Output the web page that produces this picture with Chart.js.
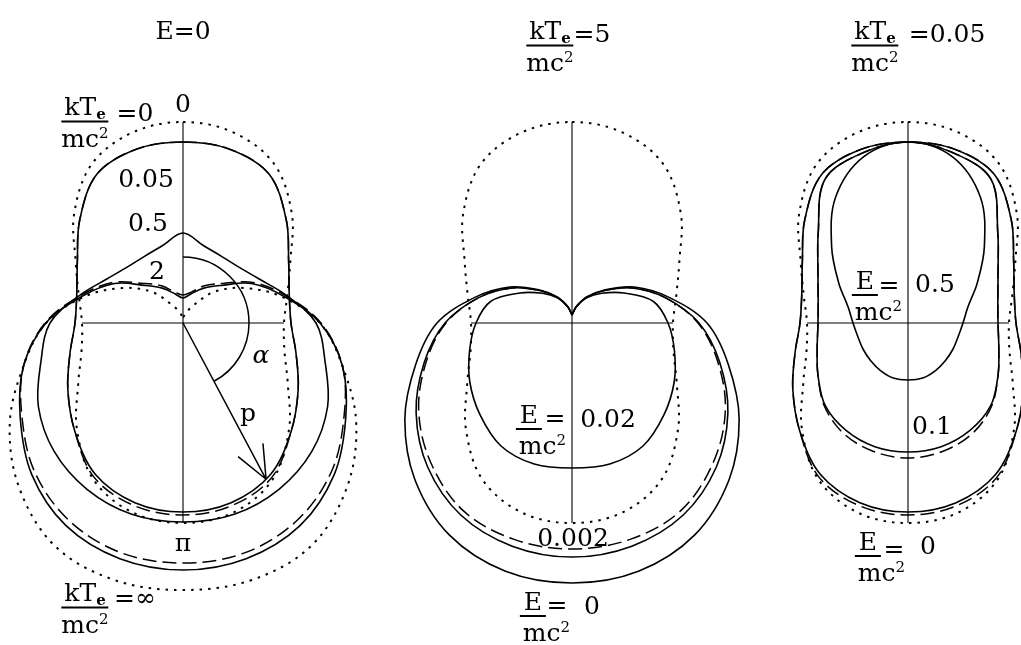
<!DOCTYPE html>
<html lang="en">
<head>
<meta charset="UTF-8">
<title>Angular distributions</title>
<script src="https://cdn.jsdelivr.net/npm/chart.js"></script>
<style>
  body { margin: 0; background: #fff; }
  #wrap { position: relative; width: 1021px; height: 645px; }
  canvas { position: absolute; left: 0; top: 0; }
  .lab { position: absolute; transform: translate(-50%, -50%); font-family: "DejaVu Serif", serif;
         font-size: 25px; line-height: 1; color: #000; white-space: nowrap; }
  .fr { display: inline-flex; flex-direction: column; align-items: center; }
  .fr .n { border-bottom: 2px solid #000; padding: 0 3px 2px; }
  .fr .d { padding-top: 3px; }
  .ef { display: inline-flex; flex-direction: column; align-items: flex-start; }
  .ef .n { border-bottom: 2px solid #000; padding: 0 4px 1px; }
  .ef .d { padding: 3px 0 0 3px; }
  sub { font-size: 15px; line-height: 0; vertical-align: -4px; font-weight: bold; }
  sup { font-size: 15px; line-height: 0; vertical-align: 9px; }
</style>
</head>
<body>
<div id="wrap">
  <canvas id="chart" width="1021" height="645"></canvas>
</div>
<script>
// angle from the upward axis, degrees; radius read at each angle (100 px = 1)
const angles = [0, 15, 30, 45, 60, 75, 90, 105, 120, 135, 150, 165, 180];

// left panel, E = 0, kTe/mc2 = 0, 0.05, 0.5, 2, infinity
const kt0 = [2.01, 1.97, 1.83, 1.54, 1.24, 1.08, 1.01, 1.05, 1.21, 1.50, 1.80, 1.96, 2.00];
const kt005 = [1.81, 1.80, 1.72, 1.46, 1.22, 1.10, 1.08, 1.17, 1.33, 1.53, 1.75, 1.86, 1.89];
const kt005Dash = [1.81, 1.80, 1.72, 1.46, 1.22, 1.10, 1.08, 1.17, 1.33, 1.53, 1.78, 1.89, 1.92];
const kt05 = [0.90, 0.80, 0.77, 0.79, 0.88, 1.07, 1.33, 1.47, 1.67, 1.82, 1.92, 1.98, 1.99];
const kt2 = [0.25, 0.30, 0.40, 0.53, 0.79, 1.04, 1.37, 1.65, 1.88, 2.14, 2.34, 2.44, 2.47];
const kt2Dash = [0.28, 0.32, 0.43, 0.56, 0.81, 1.06, 1.38, 1.65, 1.86, 2.10, 2.28, 2.38, 2.40];
const ktInf = [0.06, 0.10, 0.20, 0.44, 0.70, 1.02, 1.37, 1.65, 2.00, 2.32, 2.57, 2.66, 2.67];

// middle panel, kTe/mc2 = 5, E/mc2 = 0, 0.002, 0.02
const kt5E0 = [0.08, 0.17, 0.30, 0.47, 0.72, 1.00, 1.35, 1.62, 1.93, 2.22, 2.45, 2.57, 2.60];
const kt5E0002 = [0.08, 0.17, 0.30, 0.46, 0.70, 0.97, 1.27, 1.53, 1.80, 2.04, 2.22, 2.31, 2.34];
const kt5E0002Dash = [0.08, 0.17, 0.30, 0.46, 0.70, 0.97, 1.26, 1.51, 1.77, 1.99, 2.17, 2.24, 2.26];
const kt5E002 = [0.08, 0.17, 0.29, 0.42, 0.60, 0.84, 0.96, 1.06, 1.18, 1.30, 1.42, 1.46, 1.45];

// right panel, kTe/mc2 = 0.05, E/mc2 = 0 (kt005), 0.1, 0.5
const kt005E01 = [1.81, 1.76, 1.66, 1.27, 1.04, 0.93, 0.90, 0.94, 1.04, 1.17, 1.24, 1.28, 1.29];
const kt005E01Dash = [1.81, 1.76, 1.66, 1.27, 1.04, 0.93, 0.90, 0.94, 1.04, 1.18, 1.28, 1.33, 1.35];
const kt005E05 = [1.81, 1.72, 1.45, 1.08, 0.80, 0.62, 0.55, 0.52, 0.52, 0.53, 0.55, 0.57, 0.57];

// layout (chart units)
const centres = [[1.83, -3.23], [5.72, -3.23], [9.08, -3.23]];
const axisUp = 2.01, axisDown = 2.0, axisSide = 1.01;

function pt(r, deg, c, side) {
    const a = deg * Math.PI / 180;
    return { x: c[0] + side * r * Math.sin(a), y: c[1] + r * Math.cos(a) };
}

// closed outline: right half top to bottom, then left half back up.
// smooth curves get one extra point on each end so the top joins without a corner;
// those two end segments are left undrawn.
function polar(radii, c, smooth) {
    const pts = [];
    if (smooth) pts.push(pt(radii[1], angles[1], c, -1));
    for (let i = 0; i < angles.length; i++) pts.push(pt(radii[i], angles[i], c, 1));
    for (let i = angles.length - 2; i >= 0; i--) pts.push(pt(radii[i], angles[i], c, -1));
    if (smooth) pts.push(pt(radii[1], angles[1], c, 1));
    return pts;
}

function curve(radii, c, style, cusp) {
    let dash = [];
    let width = 1.6;
    if (style === "dot") { dash = [2.5, 6]; width = 2; }
    if (style === "dash") { dash = [14, 6]; width = 1.5; }
    const data = polar(radii, c, !cusp);
    const last = data.length - 1;
    return { data, borderColor: "#000", borderWidth: width, borderDash: dash,
             showLine: true, pointRadius: 0, tension: 0.35, fill: false,
             segment: cusp ? {} : {
                 borderColor: s => (s.p0DataIndex === 0 || s.p1DataIndex === last) ? "rgba(0,0,0,0)" : "#000"
             } };
}

function axes(c) {
    return [
        { data: [{ x: c[0], y: c[1] + axisUp }, { x: c[0], y: c[1] - axisDown }] },
        { data: [{ x: c[0] - axisSide, y: c[1] }, { x: c[0] + axisSide, y: c[1] }] }
    ].map(d => Object.assign(d, { borderColor: "#000", borderWidth: 1.1, showLine: true, pointRadius: 0, tension: 0 }));
}

const datasets = [
    ...axes(centres[0]), ...axes(centres[1]), ...axes(centres[2]),
    curve(kt0, centres[0], "dot"),
    curve(kt005, centres[0]),
    curve(kt005Dash, centres[0], "dash"),
    curve(kt05, centres[0]),
    curve(kt2, centres[0]),
    curve(kt2Dash, centres[0], "dash"),
    curve(ktInf, centres[0], "dot"),
    curve(kt0, centres[1], "dot"),
    curve(kt5E0, centres[1], "solid", true),
    curve(kt5E0002, centres[1], "solid", true),
    curve(kt5E0002Dash, centres[1], "dash", true),
    curve(kt5E002, centres[1], "solid", true),
    curve(kt0, centres[2], "dot"),
    curve(kt005, centres[2]),
    curve(kt005Dash, centres[2], "dash"),
    curve(kt005E01, centres[2]),
    curve(kt005E01Dash, centres[2], "dash"),
    curve(kt005E05, centres[2])
];

// the alpha arc and the momentum arrow p in the left panel
const arcRadius = 0.66, arrowAngle = 152, arrowLength = 1.77, headLength = 0.36, headSpread = 23;
const sketchPlugin = {
    id: "sketch",
    afterDatasetsDraw(chart) {
        const ctx = chart.ctx, xs = chart.scales.x, ys = chart.scales.y;
        const cx = xs.getPixelForValue(centres[0][0]), cy = ys.getPixelForValue(centres[0][1]);
        const unit = xs.getPixelForValue(1) - xs.getPixelForValue(0);
        ctx.save();
        ctx.strokeStyle = "#000";
        ctx.lineWidth = 1.5;
        ctx.beginPath();
        ctx.arc(cx, cy, arcRadius * unit, -Math.PI / 2, (arrowAngle - 90) * Math.PI / 180);
        ctx.stroke();
        const a = arrowAngle * Math.PI / 180;
        const tx = cx + arrowLength * unit * Math.sin(a), ty = cy - arrowLength * unit * Math.cos(a);
        ctx.beginPath();
        ctx.moveTo(cx, cy);
        ctx.lineTo(tx, ty);
        const back = Math.atan2(cy - ty, cx - tx);
        [-1, 1].forEach(s => {
            const b = back + s * headSpread * Math.PI / 180;
            ctx.moveTo(tx, ty);
            ctx.lineTo(tx + headLength * unit * Math.cos(b), ty + headLength * unit * Math.sin(b));
        });
        ctx.stroke();
        ctx.restore();
    }
};

new Chart(document.getElementById("chart"), {
    type: "scatter",
    data: { datasets },
    options: {
        responsive: false,
        animation: false,
        devicePixelRatio: 1,
        layout: { padding: 0 },
        plugins: { legend: { display: false }, tooltip: { enabled: false } },
        scales: {
            x: { type: "linear", min: 0, max: 10.21, display: false },
            y: { type: "linear", min: -6.45, max: 0, display: false }
        }
    },
    plugins: [sketchPlugin]
});

// text labels
const ktFrac = '<span class="fr"><span class="n">kT<sub>e</sub></span><span class="d">mc<sup>2</sup></span></span>';
const eFrac = '<span class="ef"><span class="n">E</span><span class="d">mc<sup>2</sup></span></span>';
const labels = [
    ["E=0", 183, 30], ["0", 183, 103], [ktFrac, 85, 122], ["=0", 135, 112],
    ["0.05", 146, 178], ["0.5", 148, 222], ["2", 157, 270],
    ["<i>α</i>", 261, 354], ["p", 248, 412], ["π", 183, 542],
    [ktFrac, 85, 608], ["=∞", 135, 597],
    [ktFrac, 550, 46], ["=5", 592, 33],
    [eFrac, 541, 430], ["=", 555, 417], ["0.02", 608, 418],
    ["0.002", 573, 537],
    [eFrac, 545, 617], ["=", 557, 604], ["0", 592, 605],
    [ktFrac, 875, 46], ["=0.05", 947, 33],
    [eFrac, 877, 296], ["=", 889, 284], ["0.5", 935, 283],
    ["0.1", 932, 425],
    [eFrac, 880, 557], ["=", 894, 548], ["0", 928, 545]
];
const wrap = document.getElementById("wrap");
labels.forEach(([html, x, y]) => {
    const d = document.createElement("div");
    d.className = "lab";
    d.innerHTML = html;
    d.style.left = x + "px";
    d.style.top = y + "px";
    wrap.appendChild(d);
});
</script>
</body>
</html>
